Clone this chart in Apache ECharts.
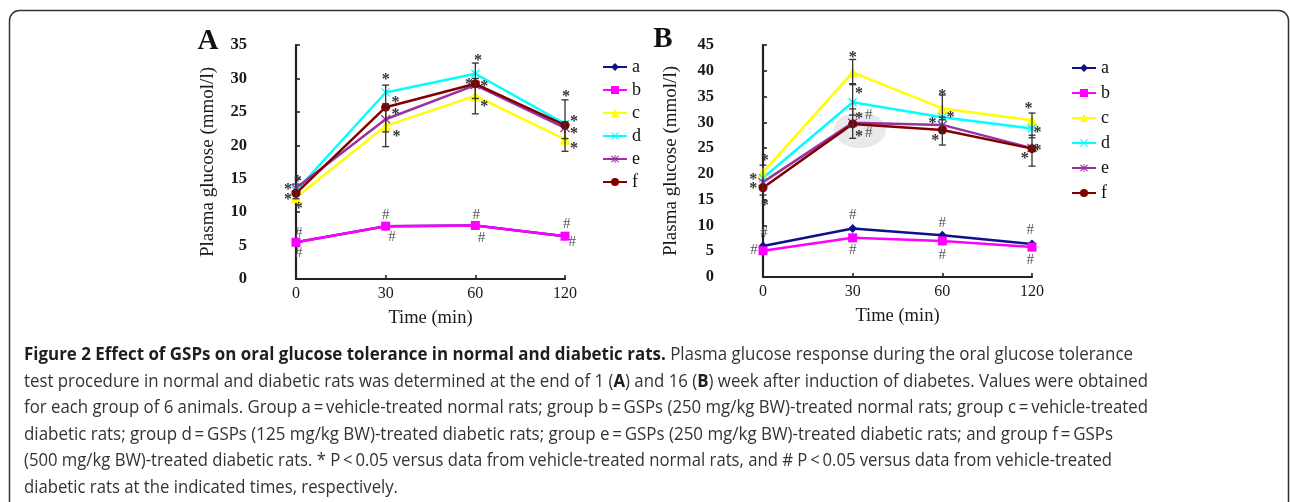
<!DOCTYPE html>
<html><head><meta charset="utf-8">
<script src="https://cdn.jsdelivr.net/npm/echarts@6/dist/echarts.min.js"></script>
<style>html,body{margin:0;padding:0;background:#fff}#c{width:1290px;height:502px}</style>
</head><body><div id="c"></div>
<script>
// ---------- data ----------
const timeLabels = ['0', '30', '60', '120'];
const groupNames = ['a', 'b', 'c', 'd', 'e', 'f'];

// Panel A (1 week)
const A_a = [5.5, 7.9, 8.0, 6.4];
const A_b = [5.5, 7.9, 8.0, 6.4];
const A_c = [12.2, 22.9, 27.4, 20.9];
const A_d = [13.2, 27.9, 30.7, 23.2];
const A_e = [13.6, 23.9, 29.0, 22.6];
const A_f = [12.8, 25.7, 29.2, 23.0];
const A_err = [[0, 12.0, 14.2], [1, 19.8, 26.2], [1, 22.0, 29.0], [2, 24.7, 30.0], [2, 27.0, 32.3], [3, 19.1, 23.5], [3, 21.0, 26.8]];
const A_stars = [[0.02, 15.0], [-0.09, 13.8], [-0.09, 12.4], [0.03, 11.0],
  [1.0, 30.3], [1.11, 26.8], [1.11, 25.0], [1.12, 21.8],
  [2.03, 33.2], [1.93, 29.5], [2.1, 29.3], [2.1, 26.2],
  [3.01, 27.7], [3.1, 24.1], [3.1, 22.3], [3.1, 20.0]];
const A_hash = [[0.03, 6.9], [0.03, 3.9], [1.0, 9.6], [1.07, 6.3], [2.01, 9.6], [2.07, 6.1], [3.02, 8.2], [3.08, 5.5]];

// Panel B (16 weeks)
const B_a = [6.0, 9.4, 8.1, 6.4];
const B_b = [5.1, 7.6, 7.0, 5.8];
const B_c = [20.3, 39.7, 32.7, 30.4];
const B_d = [19.2, 33.9, 31.0, 28.8];
const B_e = [18.4, 29.9, 29.5, 25.0];
const B_f = [17.3, 29.7, 28.5, 24.9];
const B_err = [[0, 15.9, 21.7], [1, 26.9, 32.6], [1, 31.4, 37.5], [1, 37.3, 42.2], [2, 25.6, 31.0], [2, 30.5, 35.3], [3, 21.5, 27.5], [3, 27.0, 31.8]];
const B_stars = [[0.02, 23.3], [-0.11, 19.5], [-0.11, 17.8], [0.02, 14.5],
  [1.0, 43.2], [1.07, 36.2], [1.07, 31.4], [1.07, 27.9],
  [2.0, 35.9], [2.09, 31.6], [1.89, 30.3], [1.92, 27.1],
  [2.96, 33.3], [3.06, 28.7], [3.06, 25.2], [2.92, 23.6]];
const B_hash = [[0.01, 8.5], [-0.1, 5.2], [1.0, 12.0], [1.0, 5.2], [1.18, 31.4], [1.18, 27.9], [2.0, 10.5], [2.0, 4.3], [2.98, 9.1], [2.98, 3.3]];
const B_highlight = [[1.08, 28.5]];

// ---------- styles ----------
const SERIF = '"Liberation Serif", "DejaVu Serif", serif';
const colors = { a: '#10108a', b: '#ff00ff', c: '#ffff00', d: '#00ffff', e: '#9b30a0', f: '#800000' };
const X_PATH = 'path://M0,1 L1,0 L5,4 L9,0 L10,1 L6,5 L10,9 L9,10 L5,6 L1,10 L0,9 L4,5 Z';
const AST_PATH = 'path://M0,1.5 L1,0.5 L4.4,3.9 L4.4,0 L5.6,0 L5.6,3.9 L9,0.5 L10,1.5 L6.1,5 L10,8.5 L9,9.5 L5.6,6.1 L5.6,10 L4.4,10 L4.4,6.1 L1,9.5 L0,8.5 L3.9,5 Z';
const symbols = { a: 'diamond', b: 'rect', c: 'triangle', d: X_PATH, e: AST_PATH, f: 'circle' };
const symSizes = { a: 9, b: 9, c: 11, d: 9, e: 10, f: 9 };

function lineSeries(name, vals, gi) {
  return {
    name, type: 'line', xAxisIndex: gi, yAxisIndex: gi,
    data: vals.map((v, i) => [i, v]),
    symbol: symbols[name], symbolSize: symSizes[name], showSymbol: true,
    lineStyle: { width: 2.5, color: colors[name] },
    itemStyle: { color: colors[name] },
    z: 3, animation: false
  };
}
function errSeries(data, gi) {
  return {
    type: 'custom', xAxisIndex: gi, yAxisIndex: gi, data, z: 4, silent: true,
    encode: { x: 0, y: [1, 2] },
    renderItem: (params, api) => {
      const x = api.value(0);
      const p1 = api.coord([x, api.value(2)]);
      const p2 = api.coord([x, api.value(1)]);
      const w = 3.5, st = { stroke: '#333', lineWidth: 1.3 };
      return { type: 'group', children: [
        { type: 'line', shape: { x1: p1[0], y1: p1[1], x2: p2[0], y2: p2[1] }, style: st },
        { type: 'line', shape: { x1: p1[0] - w, y1: p1[1], x2: p1[0] + w, y2: p1[1] }, style: st },
        { type: 'line', shape: { x1: p2[0] - w, y1: p2[1], x2: p2[0] + w, y2: p2[1] }, style: st }
      ] };
    }
  };
}
function glyphSeries(data, gi, glyph, dy, color, font) {
  return {
    type: 'custom', xAxisIndex: gi, yAxisIndex: gi, data, z: 5, silent: true,
    encode: { x: 0, y: 1 },
    renderItem: (params, api) => {
      const p = api.coord([api.value(0), api.value(1)]);
      return { type: 'text', x: p[0], y: p[1] + dy,
        style: { text: glyph, fill: color, font, align: 'center', verticalAlign: 'middle', textAlign: 'center', textVerticalAlign: 'middle' } };
    }
  };
}
function xAxis(gi) {
  return {
    gridIndex: gi, type: 'value', min: 0, max: 3, interval: 1,
    axisLine: { show: true, onZero: false, lineStyle: { color: '#222', width: 2.2 } },
    axisTick: { show: true, inside: true, length: 4, lineStyle: { color: '#222', width: 1.6 } },
    splitLine: { show: false },
    axisLabel: { formatter: v => timeLabels[v], fontFamily: SERIF, fontSize: 16, color: '#1a1a1a', margin: 7 },
    name: 'Time (min)', nameLocation: 'middle', nameGap: 30,
    nameTextStyle: { fontFamily: SERIF, fontSize: 18.5, color: '#1a1a1a' }
  };
}
function yAxis(gi, max, gap) {
  return {
    gridIndex: gi, type: 'value', min: 0, max, interval: 5, offset: 43,
    axisLine: { show: true, lineStyle: { color: '#222', width: 2.2 } },
    axisTick: { show: true, inside: true, length: 4, lineStyle: { color: '#222', width: 1.6 } },
    splitLine: { show: false },
    axisLabel: { fontFamily: SERIF, fontWeight: 'bold', fontSize: 16.5, color: '#1a1a1a', margin: 6 },
    name: 'Plasma glucose (mmol/l)', nameLocation: 'middle', nameGap: gap, nameRotate: 90,
    nameTextStyle: { fontFamily: SERIF, fontSize: 19, color: '#1a1a1a' }
  };
}

// ---------- caption ----------
const captionLines = [
  [['Figure 2 Effect of GSPs on oral glucose tolerance in normal and diabetic rats.', true], [' Plasma glucose response during the oral glucose tolerance', false]],
  [['test procedure in normal and diabetic rats was determined at the end of 1 (', false], ['A', true], [') and 16 (', false], ['B', true], [') week after induction of diabetes. Values were obtained', false]],
  [['for each group of 6 animals. Group a\u2009=\u2009vehicle-treated normal rats; group b\u2009=\u2009GSPs (250 mg/kg BW)-treated normal rats; group c\u2009=\u2009vehicle-treated', false]],
  [['diabetic rats; group d\u2009=\u2009GSPs (125 mg/kg BW)-treated diabetic rats; group e\u2009=\u2009GSPs (250 mg/kg BW)-treated diabetic rats; and group f\u2009=\u2009GSPs', false]],
  [['(500 mg/kg BW)-treated diabetic rats. * P\u2009<\u20090.05 versus data from vehicle-treated normal rats, and # P\u2009<\u20090.05 versus data from vehicle-treated', false]],
  [['diabetic rats at the indicated times, respectively.', false]]
];
const lineRight = [1133, 1148, 1148, 1113, 1112, 398];
const lineY = [355, 382, 408.5, 435, 461.5, 488];
const CAP_X = 24, CAP_SIZE = 17.5;
const fontN = CAP_SIZE + 'px "Open Sans", "Noto Sans", sans-serif';
const fontB = '700 ' + CAP_SIZE + 'px "Open Sans", "Noto Sans", sans-serif';
const mctx = document.createElement('canvas').getContext('2d');
const captionEls = captionLines.map((segs, li) => {
  let acc = 0;
  const children = segs.map(([t, b]) => {
    mctx.font = b ? fontB : fontN;
    const el = { type: 'text', x: acc, y: 0, style: { text: t, font: b ? fontB : fontN, fill: b ? '#1e1e1e' : '#333', align: 'left', verticalAlign: 'middle', textAlign: 'left', textVerticalAlign: 'middle' } };
    acc += mctx.measureText(t).width;
    return el;
  });
  const s = (lineRight[li] - CAP_X) / acc;
  return { type: 'group', x: CAP_X, y: lineY[li], scaleX: s, children };
});

const chart = echarts.init(document.getElementById('c'), null, { renderer: 'canvas' });
const starFont = 'bold 16px ' + SERIF, hashFont = '15px ' + SERIF;
chart.setOption({
  animation: false,
  backgroundColor: '#fff',
  grid: [
    { left: 296, top: 45, width: 269, height: 234 },
    { left: 763, top: 45, width: 269, height: 232 }
  ],
  xAxis: [xAxis(0), xAxis(1)],
  yAxis: [yAxis(0, 35, 35), yAxis(1, 45, 39)],
  legend: [
    { data: groupNames, orient: 'vertical', left: 597, top: 53, itemWidth: 24, itemHeight: 10, itemGap: 5, selectedMode: false,
      textStyle: { fontFamily: SERIF, fontSize: 18, color: '#111' } },
    { data: groupNames, orient: 'vertical', left: 1066, top: 54, itemWidth: 24, itemHeight: 10, itemGap: 7, selectedMode: false,
      textStyle: { fontFamily: SERIF, fontSize: 18, color: '#111' } }
  ],
  graphic: [
    { type: 'rect', shape: { x: 9.5, y: 10.5, width: 1279, height: 700, r: 10 }, style: { fill: 'none', stroke: '#333', lineWidth: 1.5 }, silent: true },
    { type: 'text', x: 208, y: 42, style: { text: 'A', font: 'bold 29px ' + SERIF, fill: '#111', align: 'center', verticalAlign: 'middle', textAlign: 'center', textVerticalAlign: 'middle' } },
    { type: 'text', x: 663, y: 40, style: { text: 'B', font: 'bold 29px ' + SERIF, fill: '#111', align: 'center', verticalAlign: 'middle', textAlign: 'center', textVerticalAlign: 'middle' } },
    ...captionEls
  ],
  series: [
    { type: 'scatter', xAxisIndex: 1, yAxisIndex: 1, data: B_highlight, symbol: 'circle', symbolSize: [52, 36], itemStyle: { color: '#e4e4e4' }, z: 1, silent: true },
    errSeries(A_err, 0), errSeries(B_err, 1),
    lineSeries('a', A_a, 0), lineSeries('b', A_b, 0), lineSeries('c', A_c, 0),
    lineSeries('d', A_d, 0), lineSeries('e', A_e, 0), lineSeries('f', A_f, 0),
    lineSeries('a', B_a, 1), lineSeries('b', B_b, 1), lineSeries('c', B_c, 1),
    lineSeries('d', B_d, 1), lineSeries('e', B_e, 1), lineSeries('f', B_f, 1),
    glyphSeries(A_stars, 0, '*', 3.5, '#333', starFont), glyphSeries(A_hash, 0, '#', 0, '#555', hashFont),
    glyphSeries(B_stars, 1, '*', 3.5, '#333', starFont), glyphSeries(B_hash, 1, '#', 0, '#555', hashFont)
  ]
});
</script>
</body></html>
